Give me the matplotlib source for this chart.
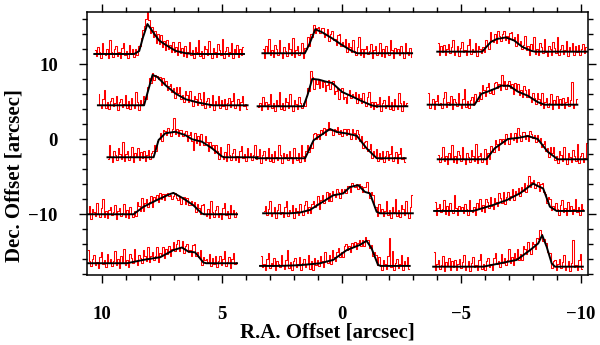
import numpy as np
import matplotlib
matplotlib.use("Agg")
import matplotlib.pyplot as plt
from matplotlib.ticker import MultipleLocator

# ---------------- data ----------------
# spectrum positions (R.A. offset of spectrum centre, Dec. offset of baseline), row-major
ra_center = [7.20, 0.18, -7.12,
             7.05, 0.38, -6.72,
             6.65, 0.45, -7.14,
             7.49, 0.15, -6.99,
             7.49, 0.28, -6.95]
dec_base = [11.37, 11.47, 11.68,
            4.53, 4.40, 4.61,
            -2.40, -2.53, -2.67,
            -10.00, -9.87, -9.56,
            -16.53, -16.89, -16.99]

# observed spectra (100 channels each, intensity in plot units)
obs_11 = [0.5, -0.3, 0.9, 0.2, -0.6, 1.4, 0.1, -0.2, 0.7, -0.5, 1.8, 0.3, -0.4, 0.6, 1.1, -0.3, 0.2, -0.6,
          0.8, 1.5, -0.1, 0.4, -0.5, 1.2, 0.0, 0.6, -0.4,
          0.6, -0.2, 1.1, 1.0, 2.1, 3.2, 3.7, 4.6, 5.6, 4.5, 2.8, 3.6, 2.2, 3.0, 1.5, 2.6, 1.3, 2.5, 0.9, 1.7,
          0.5, 1.9, 0.6, 1.2, 0.2, 1.6, 0.2, 0.9, -0.2, 1.6, 0.1, 0.8, -0.3, 1.0,
          -0.4, 0.3, 1.6, -0.2, 0.5, -0.6, 0.9, 0.2, 1.9, -0.3, 0.4, -0.5, 1.1, 0.6, -0.2, 1.7, 0.0, -0.6,
          0.8, 0.3, -0.4, 1.3, 0.5, -0.2, 2.0, -0.5, 0.4, 0.9, -0.3, 0.2, 1.4, -0.6, 0.6, 0.1, 1.2, -0.4,
          0.7, -0.1, 0.9]
obs_12 = [0.5, -0.6, 0.9, 0.2, 1.9, -0.3, 0.4, -0.5, 1.1, 0.6, -0.2, 1.7, 0.0, -0.6, 0.8, 0.3, -0.4, 1.3,
          0.5, -0.2, 2.0, -0.5, 0.4, 0.9, -0.3, 0.2, 1.4, -0.6,
          0.7, 0.6, 2.1, 0.9, 2.5, 2.2, 3.7, 2.7, 3.4, 3.5, 2.7, 3.4, 3.3, 2.2, 2.6, 3.2, 1.6, 2.6, 2.9, 1.8,
          1.9, 1.1, 2.4, 2.6, 0.9, 1.5, 0.9, 1.9, 0.1, 1.3, 0.8, 0.1, 1.7, 0.3, -0.3,
          0.8, 2.1, -0.3, 0.5, -0.5, 0.6, 1.0, -0.1, 0.3, 1.2, -0.6, 0.4, 0.9, -0.2, 0.2, 1.4, -0.4,
          0.6, -0.5, 1.0, 0.1, -0.3, 1.8, 0.4, -0.6, 0.7, 0.2, 0.5, -0.3, 0.9, 0.2, -0.6, 1.4, 0.1, -0.2,
          0.7, -0.5]
obs_13 = [1.2, -0.4, 0.7, -0.1, 0.9, -0.5, 0.3, 1.0, -0.2, 0.6, 1.6, -0.4, 0.1, 0.8, -0.6, 0.5, 1.3, -0.1,
          0.2, -0.5, 0.9, 1.7, -0.3, 0.4, 0.0, 1.1, -0.6, 0.7, 0.3, -0.2,
          0.6, 0.0, 1.5, 1.0, 0.4, 2.6, 1.5, 1.3, 2.3, 1.2, 2.7, 2.1, 1.4, 2.4, 2.8, 1.6, 2.1, 1.2, 2.5, 2.6,
          1.5, 1.9, 0.8, 2.4, 1.0, 1.4, 0.3, 0.9, 2.1, 0.2, 0.8, -0.4, 1.0, 0.3, 1.9,
          -0.3, 0.4, -0.5, 1.1, 0.6, -0.2, 1.7, 0.0, -0.6, 0.8, 0.3, -0.4, 1.3, 0.5, -0.2, 2.0, -0.5, 0.4,
          0.9, -0.3, 0.2, 1.4, -0.6, 0.6, 0.1, 1.2, -0.4, 0.7, -0.1, 0.9, -0.5, 0.3, 1.0, -0.2, 0.6]
obs_21 = [1.5, 0.1, -0.4, 0.8, 2.1, -0.3, 0.5, -0.5, 0.6, 1.0, -0.1, 0.3, 1.2, -0.6, 0.4, 0.9, -0.2, 0.2,
          1.4, -0.4, 0.6, -0.5, 1.0, 0.1, -0.3, 1.8, 0.4, -0.6, 0.7, 0.2,
          1.2, 0.8, 0.8, 2.5, 3.7, 3.0, 4.3, 3.4, 4.1, 3.9, 3.5, 3.8, 2.7, 3.6, 2.8, 3.2, 2.1, 2.6, 2.9, 1.8,
          2.3, 1.0, 2.4, 1.6, 2.5, 0.9, 1.4, 0.4, 1.9, 1.4, 0.5, 1.9, 0.6, -0.1, 1.3, 0.8, 0.0, 1.6, 0.8, 0.1,
          1.8, -0.3, 0.6, 1.0, -0.2, 0.2,
          1.4, -0.6, 0.6, 0.1, 1.2, -0.4, 0.7, -0.1, 0.9, -0.5, 0.3, 1.0, -0.2, 0.6, 1.6, -0.4, 0.1, 0.8,
          -0.6, 0.5, 1.3, -0.1, 0.2, -0.5]
obs_22 = [-0.1, 0.4, -0.5, 1.2, 0.0, 0.6, -0.4, 0.3, 1.6, -0.2, 0.5, -0.6, 0.9, 0.2, 1.9, -0.3, 0.4, -0.5,
          1.1, 0.6, -0.2, 1.7, 0.0, -0.6, 0.8, 0.3, -0.4, 1.3, 0.5, -0.2,
          0.4, 0.0, 1.4, 2.5, 2.0, 4.7, 3.9, 2.3, 3.5, 3.0, 3.6, 2.4, 3.5, 2.6, 3.3, 2.1, 2.9, 3.5, 2.3, 3.0,
          3.4, 1.7, 2.0, 2.5, 1.0, 1.9, 2.5, 1.0, 1.2, 0.4, 1.7, 2.2, 1.1, 1.7, 1.2, 1.9, 0.4, 1.6, 1.1, 0.5,
          1.8, 0.6, 0.0, 1.2, 1.9, -0.1, 0.6, -0.4, 0.6,
          -0.1, 0.3, 1.2, -0.6, 0.4, 0.9, -0.2, 0.2, 1.4, -0.4, 0.6, -0.5, 1.0, 0.1, -0.3, 1.8, 0.4, -0.6,
          0.7, 0.2, 0.5]
obs_23 = [1.6, -0.4, 0.1, 0.8, -0.6, 0.5, 1.3, -0.1, 0.2, -0.5, 0.9, 1.7, -0.3, 0.4, 0.0, 1.1, -0.6, 0.7,
          0.3, -0.2, 1.5, 0.1, -0.4, 0.8, 2.1, -0.3, 0.5, -0.5, 0.6, 1.0, -0.1,
          1.4, 0.5, 0.5, 1.7, 0.8, 2.6, 1.9, 1.2, 2.3, 2.9, 1.6, 2.1, 1.4, 2.9, 3.0, 2.2, 2.8, 2.0, 4.0, 2.5,
          3.1, 2.1, 2.8, 3.2, 2.2, 2.8, 1.4, 2.9, 2.0, 2.7, 1.3, 2.0, 1.0, 2.5, 1.9, 1.0, 2.1, 1.0, 0.3, 1.5,
          0.9, 0.1, 1.6, 0.8, 0.0, 1.5, -0.5,
          0.4, 0.9, -0.3, 0.2, 1.4, -0.6, 0.6, 0.1, 1.2, -0.4, 0.7, -0.1, 0.9, -0.5, 0.3, 1.0, -0.2, 0.6,
          3.0, -0.4, 0.1, 0.8]
obs_31 = [-0.2, 1.7, 0.0, -0.6, 0.8, 0.3, -0.4, 1.3, 0.5, -0.2, 2.0, -0.5, 0.4, 0.9, -0.3, 0.2, 1.4, -0.6,
          0.6, 0.1, 1.2, -0.4, 0.7, -0.1, 0.9, -0.5, 0.3, 1.0, -0.2, 0.6,
          0.9, 1.6, 0.9, 2.2, 2.4, 3.3, 2.2, 3.7, 3.5, 3.0, 3.9, 3.4, 2.9, 3.8, 5.2, 3.1, 3.8, 2.8, 3.6, 3.7,
          2.9, 3.3, 3.5, 2.2, 3.0, 3.4, 2.2, 1.0, 3.2, 1.9, 2.8, 1.6, 3.1, 2.1, 1.6, 2.9, 2.0, 0.9, 2.1, 1.4,
          1.6, 0.6, 1.7, 0.8, -0.2, 1.4, 0.2, -0.2,
          0.7, -0.5, 1.8, 0.3, -0.4, 0.6, 1.1, -0.3, 0.2, -0.6, 0.8, 1.5, -0.1, 0.4, -0.5, 1.2, 0.0, 0.6,
          -0.4, 0.3, 1.6, -0.2]
obs_32 = [-0.1, 0.3, 1.2, -0.6, 0.4, 0.9, -0.2, 0.2, 1.4, -0.4, 0.6, -0.5, 1.0, 0.1, -0.3, 1.8, 0.4, -0.6,
          0.7, 0.2, 0.5, -0.3, 0.9, 0.2, -0.6, 1.4, 0.1, -0.2, 0.7, -0.5, 1.8, 0.3, -0.4,
          0.9, 1.8, 0.8, 1.8, 1.4, 3.2, 3.4, 2.6, 3.2, 2.5, 3.8, 3.2, 4.0, 3.1, 3.9, 4.8, 3.7, 3.9, 3.1, 3.9,
          3.7, 4.2, 3.2, 3.8, 2.9, 3.9, 3.9, 3.1, 3.9, 3.2, 2.6, 3.9, 3.4, 2.6, 3.8, 3.2, 2.3, 3.0, 1.4, 2.1,
          2.3, 0.9, 1.2, 1.9, 0.0, 1.0, 0.3, 1.2,
          -0.4, 0.7, -0.1, 0.9, -0.5, 0.3, 1.0, -0.2, 0.6, 1.6, -0.4, 0.1, 0.8, -0.6, 0.5, 1.3, -0.1, 0.2,
          -0.5]
obs_33 = [0.6, -0.4, 0.3, 1.6, -0.2, 0.5, -0.6, 0.9, 0.2, 1.9, -0.3, 0.4, -0.5, 1.1, 0.6, -0.2, 1.7, 0.0,
          -0.6, 0.8, 0.3, -0.4, 1.3, 0.5, -0.2, 2.0, -0.5, 0.4, 0.9, -0.3, 0.2, 1.4, -0.6,
          0.9, 0.0, 1.8, 1.2, 1.0, 2.6, 2.1, 1.2, 2.7, 2.3, 2.7, 2.1, 3.4, 2.9, 2.1, 3.5, 2.9, 2.6, 3.5, 2.3,
          4.2, 3.2, 2.5, 3.6, 3.7, 2.7, 3.3, 2.5, 3.8, 3.4, 2.8, 3.2, 2.3, 3.3, 2.5, 2.9, 1.6, 2.1, 2.4, 1.1,
          1.5, 0.3, 1.6, 0.8, 1.7, -0.1, 0.5,
          -0.5, 1.1, 0.6, -0.2, 1.7, 0.0, -0.6, 0.8, 0.3, -0.4, 1.3, 0.5, -0.2, 2.0, -0.5, 0.4, 0.9, -0.3,
          0.2, 2.2]
obs_41 = [0.0, 1.1, -0.6, 0.7, 0.3, -0.2, 1.5, 0.1, -0.4, 0.8, 2.1, -0.3, 0.5, -0.5, 0.6, 1.0, -0.1, 0.3,
          1.2, -0.6, 0.4, 0.9, -0.2, 0.2, 1.4, -0.4, 0.6, -0.5, 1.0, 0.1, -0.3,
          0.4, -0.2, 1.7, 1.1, 0.5, 2.2, 0.5, 1.5, 2.1, 1.0, 1.6, 2.4, 1.0, 2.3, 1.9, 2.6, 1.6, 2.8, 2.1, 2.7,
          1.9, 2.7, 2.9, 2.4, 2.6, 2.1, 2.4, 2.8, 2.2, 1.9, 2.5, 1.4, 2.1, 2.3, 1.4, 2.2, 1.3, 1.2, 1.8, 1.3,
          1.6, 0.3, 1.4, 0.9, 0.1, 1.2,
          1.4, 0.1, -0.2, 0.7, -0.5, 1.8, 0.3, -0.4, 0.6, 1.1, -0.3, 0.2, -0.6, 0.8, 1.5, -0.1, 0.4, -0.5,
          1.2, 0.0, 0.6, -0.4, 0.3]
obs_42 = [0.3, 1.0, -0.2, 0.6, 1.6, -0.4, 0.1, 0.8, -0.6, 0.5, 1.3, -0.1, 0.2, -0.5, 0.9, 1.7, -0.3, 0.4,
          0.0, 1.1, -0.6, 0.7, 0.3, -0.2,
          1.3, 0.3, -0.2, 1.1, 1.7, 0.1, 0.9, 0.0, 1.2, 1.7, 0.8, 1.3, 2.3, 0.6, 1.8, 2.4, 1.4, 1.9, 2.8, 1.6,
          2.7, 1.7, 3.0, 2.5, 2.2, 3.3, 2.9, 2.0, 3.3, 2.9, 3.3, 2.7, 3.7, 3.6, 2.9, 4.0, 3.7, 3.5, 3.9, 3.3,
          3.9, 3.6, 2.8, 3.5, 3.5, 4.2, 2.9, 2.0, 2.8, 2.4, 0.8, 0.8, -0.4, 1.2,
          0.0, 0.6, -0.4, 0.3, 1.6, -0.2, 0.5, -0.6, 0.9, 0.2, 1.9, -0.3, 0.4, -0.5, 1.1, 0.6, -0.2, 1.7,
          0.0, -0.6, 0.8, 2.4]
obs_43 = [1.2, -0.6, 0.4, 0.9, -0.2, 0.2, 1.4, -0.4, 0.6, -0.5, 1.0, 0.1, -0.3, 2.1, 0.4, -0.6, 0.7, 0.2,
          0.5, -0.3, 0.9, 0.2, -0.6, 1.4, 0.1, -0.2,
          0.5, -0.5, 1.0, 0.4, 1.6, 0.0, 0.8, -0.1, 1.6, 1.2, 0.4, 1.9, 0.7, 0.2, 1.7, 1.2, 0.6, 2.4, 1.7, 1.0,
          2.5, 0.9, 1.9, 2.5, 1.4, 2.0, 2.9, 1.4, 2.7, 2.3, 3.1, 2.0, 3.2, 2.6, 3.7, 2.5, 3.4, 4.6, 3.2, 3.9,
          4.1, 3.1, 3.5, 3.8, 2.6, 3.6, 3.7, 2.5, 2.2, 1.0, 1.8, 1.6, 0.1, 0.7, 0.2, 1.1,
          0.2, -0.6, 0.8, 1.5, -0.1, 0.4, -0.5, 1.2, 0.0, 0.6, -0.4, 0.3, 1.6, -0.2, 0.5, -0.6, 0.9, 0.2]
obs_51 = [1.8, 0.3, -0.4, 0.6, 1.1, -0.3, 0.2, -0.6, 0.8, 1.5, -0.1, 0.4, -0.5, 1.2, 0.0, 0.6, -0.4, 0.3,
          1.6, -0.2, 0.5, -0.6, 0.9, 0.2, 1.9, -0.3, 0.4,
          -0.5, 1.2, 0.7, 0.0, 1.9, 0.3, -0.3, 1.1, 0.7, 0.0, 1.8, 1.0, 0.3, 2.2, 0.1, 1.0, 1.5, 0.4, 0.9, 2.1,
          0.2, 1.4, 1.0, 2.2, 0.7, 1.9, 1.2, 2.3, 1.0, 1.9, 2.8, 1.6, 2.5, 3.1, 1.6, 2.2, 2.9, 1.3, 2.3, 2.6,
          1.5, 1.7, 1.0, 2.4, 2.5, 1.0, 1.5, 0.8, 1.7, -0.3, 0.8, 0.4,
          0.6, 0.1, 1.2, -0.4, 0.7, -0.1, 0.9, -0.5, 0.3, 1.0, -0.2, 0.6, 1.6, -0.4, 0.1, 0.8, -0.6, 0.5,
          1.3, -0.1, 0.2]
obs_52 = [1.3, -0.1, 0.2, -0.5, 0.9, 1.7, -0.3, 0.4, 0.0, 1.1, -0.6, 0.7, 0.3, -0.2, 1.5, 0.1, -0.4, 0.8,
          2.1, -0.3, 0.5, -0.5, 0.6, 1.0, -0.1, 0.3, 1.2, -0.6, 0.4, 0.9, -0.2, 0.2, 1.4, -0.4, 0.6, -0.5,
          1.0, 0.1,
          0.8, 0.0, 1.3, 0.6, -0.1, 1.9, 0.7, 0.4, 1.4, 0.2, 2.1, 1.2, 0.6, 1.8, 2.4, 1.2, 1.8, 1.2, 2.7, 2.9,
          2.1, 2.6, 1.8, 3.0, 2.5, 3.2, 2.2, 3.0, 3.5, 2.7, 3.5, 2.6, 3.9, 3.5, 3.4, 2.4, 2.8, 1.3, 1.9, 1.4,
          0.1, 1.2,
          0.0, -0.6, 0.8, 0.3, -0.4, 1.3, 3.7, -0.2, 2.0, -0.5, 0.4, 0.9, -0.3, 0.2, 1.4, -0.6, 0.6, 0.1,
          1.2, -0.4]
obs_53 = [2.0, -0.5, 0.4, 0.9, -0.3, 0.2, 1.4, -0.6, 0.6, 0.1, 1.2, -0.4, 0.7, -0.1, 0.9, -0.5, 0.3, 1.0,
          -0.2, 0.6, 1.6, -0.4, 0.1, 0.8, -0.6, 0.5, 1.3, -0.1, 0.2, -0.5, 0.9, 1.7, -0.3, 0.4,
          -0.4, 0.7, 1.2, -0.1, 0.4, -0.4, 1.1, 1.8, 0.3, 0.8, -0.1, 1.7, 0.5, 1.2, 0.2, 0.9, 2.3, 0.5, 1.3, 0.2,
          1.8, 1.1, 2.4, 0.9, 1.7, 0.9, 2.7, 2.3, 1.7, 3.3, 2.2, 1.7, 3.3, 3.0, 2.4, 3.8, 3.7, 4.9, 4.3, 3.4,
          3.7, 3.2, 1.9, 1.8, 1.8, -0.2, 0.8,
          0.9, -0.5, 0.3, 1.0, -0.2, 0.6, 1.6, -0.4, 0.1, 0.8, -0.6, 0.5, 3.6, -0.1, 0.2, -0.5, 0.9, 1.7,
          -0.3]

# model fits: vertices (position on a 0-60 grid across each spectrum, intensity)
mod_11_ch = [0, 16, 18, 19.5, 21.3, 24, 26, 28.7, 32.7, 36.7, 40, 60]
mod_11_y = [0, 0, 0.4, 2.2, 4.0, 2.7, 1.8, 1.2, 0.4, 0.1, 0, 0]
mod_12_ch = [0, 17, 18.8, 21.2, 23.9, 27.9, 31.9, 35.9, 38, 60]
mod_12_y = [0, 0, 1.2, 3.2, 2.8, 2.0, 1.1, 0.3, 0, 0]
mod_13_ch = [0, 18, 21.5, 24, 27.5, 30.8, 34, 37.5, 39.2, 60]
mod_13_y = [0, 0, 1.3, 1.7, 1.9, 1.5, 0.66, 0.13, 0, 0]
mod_21_ch = [0, 18.5, 20, 21.9, 23.9, 27.2, 31.2, 35.2, 40.4, 45.9, 60]
mod_21_y = [0, 0, 1.8, 4.05, 3.75, 2.65, 1.55, 0.8, 0.35, 0, 0]
mod_22_ch = [0, 18.4, 20, 21.9, 24.5, 27.2, 29.9, 33.9, 37.9, 41.9, 45.9, 47.6, 60]
mod_22_y = [0, 0, 1.5, 3.65, 3.55, 3.3, 3.1, 1.9, 1.3, 0.66, 0.1, 0, 0]
mod_23_ch = [0, 18.8, 21.5, 24.1, 27.5, 29.5, 32.8, 36.1, 40.1, 44.1, 46.8, 60]
mod_23_y = [0, 0, 1.45, 1.75, 2.2, 2.55, 2.5, 1.75, 1.2, 0.35, 0, 0]
mod_31_ch = [0, 18.5, 20.5, 23.2, 27.2, 31.2, 33.9, 37.9, 41.9, 45.9, 46.8, 60]
mod_31_y = [0, 0, 2.3, 3.2, 3.4, 2.95, 2.4, 2.07, 1.2, 0.1, 0, 0]
mod_32_ch = [0, 19.7, 23.1, 25.7, 29.7, 32.4, 36.4, 40.4, 44.4, 48.4, 60]
mod_32_y = [0, 0, 2.4, 3.0, 3.9, 3.5, 3.3, 3.0, 1.3, 0, 0]
mod_33_ch = [0, 19.5, 22.8, 28.1, 32.1, 36.1, 40.1, 44.1, 48.1, 60]
mod_33_y = [0, 0, 1.45, 2.7, 2.85, 3.1, 2.7, 1.0, 0, 0]
mod_41_ch = [0, 18.5, 22.5, 27.9, 33.2, 34.5, 38.5, 42.5, 45.9, 46.8, 60]
mod_41_y = [0, 0, 1.0, 1.9, 2.7, 2.85, 2.1, 1.2, 0.1, 0, 0]
mod_42_ch = [0, 10.8, 14.8, 18.8, 22.8, 28.1, 32.1, 34.8, 38.1, 40.8, 42.8, 45.5, 46.8, 60]
mod_42_y = [0, 0, 0.1, 0.45, 1.3, 2.4, 2.65, 3.5, 3.75, 2.85, 2.65, 0.2, 0, 0]
mod_43_ch = [0, 15.7, 23.7, 29.1, 34.4, 39.7, 41.7, 43.7, 46.4, 49.1, 60]
mod_43_y = [0, 0, 0.8, 1.45, 2.35, 3.65, 3.3, 3.0, 0.57, 0, 0]
mod_51_ch = [0, 15.9, 22.5, 29.2, 34.5, 37.9, 40.5, 43.2, 46.5, 47.6, 60]
mod_51_y = [0, 0, 0.45, 0.8, 1.75, 2.1, 1.55, 1.45, 0.1, 0, 0]
mod_52_ch = [0, 8, 16, 24, 29.3, 34.7, 40, 42.7, 44.7, 47.3, 48.4, 60]
mod_52_y = [0, 0, 0.1, 0.35, 0.8, 2.1, 2.8, 3.35, 2.35, 0.13, 0, 0]
mod_53_ch = [0, 20.1, 26.8, 33.5, 38.8, 42.1, 43.7, 45.5, 47.5, 48.8, 60]
mod_53_y = [0, 0, 0.45, 0.9, 2.2, 3.1, 4.2, 2.65, 0.45, 0, 0]

observed = [obs_11, obs_12, obs_13, obs_21, obs_22, obs_23, obs_31, obs_32, obs_33,
            obs_41, obs_42, obs_43, obs_51, obs_52, obs_53]
model_ch = [mod_11_ch, mod_12_ch, mod_13_ch, mod_21_ch, mod_22_ch, mod_23_ch, mod_31_ch, mod_32_ch,
            mod_33_ch, mod_41_ch, mod_42_ch, mod_43_ch, mod_51_ch, mod_52_ch, mod_53_ch]
model_y = [mod_11_y, mod_12_y, mod_13_y, mod_21_y, mod_22_y, mod_23_y, mod_31_y, mod_32_y,
           mod_33_y, mod_41_y, mod_42_y, mod_43_y, mod_51_y, mod_52_y, mod_53_y]

# ---------------- layout ----------------
SPEC_WIDTH = 6.25   # width of each spectrum box in arcsec
MODEL_GRID = 60.0

plt.rcParams["font.family"] = ["Liberation Serif", "DejaVu Serif"]
plt.rcParams["font.weight"] = "bold"

fig = plt.figure(figsize=(6.0, 3.45), dpi=100)
ax = fig.add_axes([87 / 600, 1 - 275 / 345, (588 - 87) / 600, (275 - 12) / 345])

for obs, mch, my, rc, db in zip(observed, model_ch, model_y, ra_center, dec_base):
    obs = np.asarray(obs, dtype=float)
    n = len(obs)
    chan = np.arange(n) + 0.5
    x = rc + SPEC_WIDTH / 2 - chan * SPEC_WIDTH / n
    ax.step(x, db + obs, where="mid", color="#ff0000", lw=0.75, zorder=2)
    mx = rc + SPEC_WIDTH / 2 - np.asarray(mch) * SPEC_WIDTH / MODEL_GRID
    ax.plot(mx, db + np.asarray(my), color="black", lw=1.4, zorder=3,
            solid_joinstyle="round")

ax.set_xlim(10.63, -10.29)
ax.set_ylim(-18.1, 16.97)

ax.xaxis.set_major_locator(MultipleLocator(5))
ax.xaxis.set_minor_locator(MultipleLocator(1))
ax.yaxis.set_major_locator(MultipleLocator(10))
ax.yaxis.set_minor_locator(MultipleLocator(2))

ax.tick_params(which="both", direction="out", top=True, right=True,
               labeltop=False, labelright=False, width=1.0, labelsize=13.5)
ax.tick_params(which="major", length=6)
ax.tick_params(which="minor", length=3.6)
ax.tick_params(axis="x", which="major", pad=16)
ax.tick_params(axis="y", which="major", pad=15)
for lab in ax.get_xticklabels() + ax.get_yticklabels():
    lab.set_fontweight("bold")
for s in ax.spines.values():
    s.set_linewidth(1.1)

fig.text(327 / 600, 1 - 338 / 345, "R.A. Offset [arcsec]", ha="center", va="baseline",
         fontsize=15, fontweight="bold")
fig.text(15 / 600, 1 - 176 / 345, "Dec. Offset [arcsec]", ha="center", va="center",
         rotation=90, fontsize=15, fontweight="bold")

fig.savefig("out.png", dpi=100)
